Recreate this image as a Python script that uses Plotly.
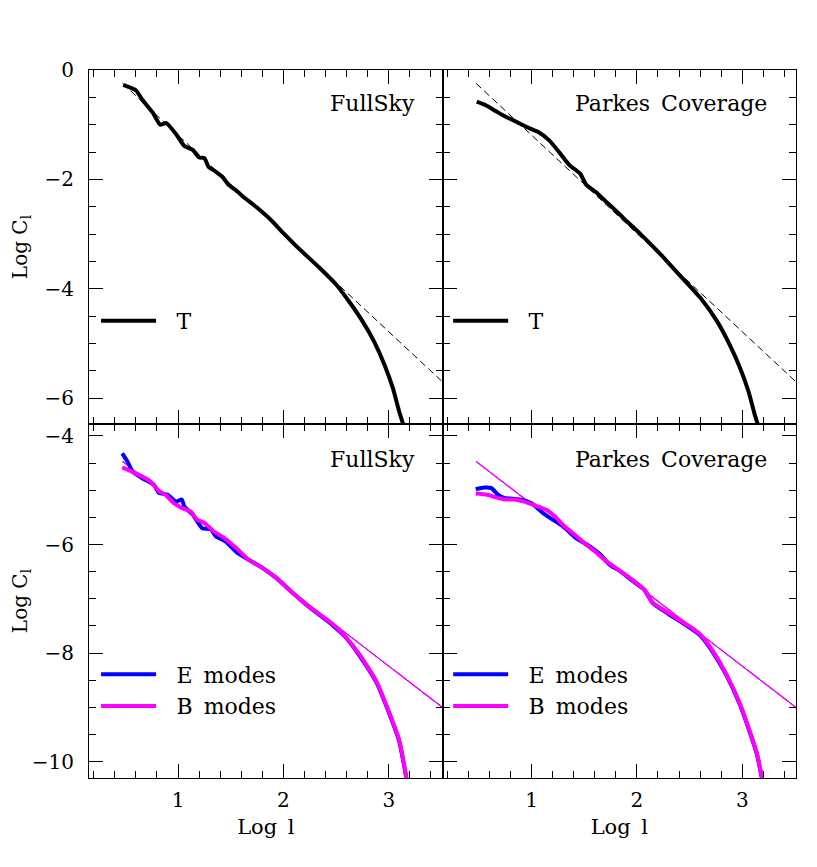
import plotly.graph_objects as go
from plotly.subplots import make_subplots

# temperature spectra (log l, log C_l)
ell_T_full = [0.48, 0.60, 0.66, 0.76, 0.83, 0.89, 0.98, 1.06, 1.14, 1.20, 1.25, 1.29, 1.36, 1.42,
              1.48, 1.55, 1.64, 1.74, 1.87, 2.00, 2.15, 2.34, 2.50, 2.63, 2.75, 2.86, 2.96, 3.04,
              3.10, 3.15]
T_full = [-0.27, -0.37, -0.54, -0.78, -1.00, -0.97, -1.17, -1.39, -1.46, -1.60, -1.61, -1.77, -1.86,
          -1.95, -2.10, -2.20, -2.35, -2.50, -2.72, -2.98, -3.27, -3.61, -3.92, -4.25, -4.59, -4.96,
          -5.39, -5.82, -6.25, -6.55]

ell_T_parkes = [0.48, 0.57, 0.66, 0.76, 0.85, 0.95, 1.06, 1.17, 1.27, 1.36, 1.46, 1.52, 1.61, 1.71,
                1.80, 1.88, 2.03, 2.22, 2.41, 2.60, 2.76, 2.88, 2.98, 3.06, 3.12, 3.16]
T_parkes = [-0.58, -0.65, -0.75, -0.86, -0.94, -1.04, -1.13, -1.29, -1.52, -1.74, -1.89, -2.10,
            -2.23, -2.41, -2.57, -2.72, -2.99, -3.36, -3.76, -4.16, -4.59, -5.02, -5.45, -5.88,
            -6.31, -6.55]

# polarisation spectra
ell_E_full = [0.47, 0.52, 0.57, 0.66, 0.77, 0.82, 0.90, 0.98, 1.035, 1.06, 1.14, 1.23, 1.31, 1.36,
              1.45, 1.56, 1.67, 1.80, 1.93, 2.06, 2.25, 2.47, 2.60, 2.72, 2.88, 3.01, 3.10, 3.15, 3.17]
E_full = [-4.32, -4.47, -4.66, -4.78, -4.90, -5.05, -5.08, -5.21, -5.17, -5.30, -5.45, -5.70, -5.72,
          -5.85, -5.94, -6.15, -6.28, -6.43, -6.61, -6.84, -7.16, -7.49, -7.73, -8.04, -8.53, -9.14,
          -9.63, -10.12, -10.34]
ell_B_full = [0.47, 0.60, 0.74, 0.82, 0.88, 0.96, 1.04, 1.12, 1.18, 1.25, 1.34, 1.44, 1.55, 1.67,
              1.80, 1.93, 2.06, 2.25, 2.47, 2.59, 2.72, 2.88, 3.01, 3.10, 3.15, 3.17]
B_full = [-4.58, -4.69, -4.84, -5.02, -5.08, -5.24, -5.33, -5.39, -5.54, -5.60, -5.76, -5.88, -6.06,
          -6.28, -6.43, -6.61, -6.84, -7.15, -7.47, -7.70, -8.02, -8.51, -9.12, -9.61, -10.10, -10.34]

ell_E_parkes = [0.47, 0.55, 0.62, 0.68, 0.74, 0.89, 1.00, 1.11, 1.20, 1.30, 1.42, 1.55, 1.65, 1.74,
                1.84, 1.96, 2.07, 2.15, 2.30, 2.47, 2.60, 2.72, 2.85, 2.98, 3.07, 3.14, 3.19]
E_parkes = [-4.98, -4.95, -4.96, -5.08, -5.14, -5.17, -5.24, -5.42, -5.54, -5.66, -5.88, -6.03, -6.18,
            -6.37, -6.49, -6.67, -6.83, -7.08, -7.28, -7.49, -7.67, -7.98, -8.41, -8.96, -9.45,
            -9.87, -10.34]
ell_B_parkes = [0.47, 0.57, 0.66, 0.74, 0.84, 0.93, 1.03, 1.14, 1.22, 1.31, 1.41, 1.50, 1.60, 1.71,
                1.80, 1.93, 2.07, 2.15, 2.30, 2.47, 2.60, 2.72, 2.85, 2.98, 3.07, 3.14, 3.19]
B_parkes = [-5.06, -5.08, -5.13, -5.17, -5.17, -5.21, -5.28, -5.36, -5.48, -5.66, -5.82, -5.97, -6.12,
            -6.31, -6.43, -6.61, -6.83, -7.07, -7.26, -7.47, -7.65, -7.96, -8.39, -8.94, -9.43,
            -9.85, -10.34]

# power-law reference lines
ell_fit = [0.474, 3.51]
T_fit = [-0.245, -5.70]
EB_fit = [-4.47, -9.00]

SERIF = "DejaVu Serif"
BLUE = "#0000ff"
MAGENTA = "#ff00ff"
SP = "\u2002"  # wide gap between words, as in the original lettering

fig = make_subplots(rows=2, cols=2, horizontal_spacing=0, vertical_spacing=0)

panels = [
    (1, 1, "legend", ell_T_full, T_full, None, None),
    (1, 2, "legend2", ell_T_parkes, T_parkes, None, None),
    (2, 1, "legend3", ell_E_full, E_full, ell_B_full, B_full),
    (2, 2, "legend4", ell_E_parkes, E_parkes, ell_B_parkes, B_parkes),
]

for row, col, leg, xa, ya, xb, yb in panels:
    if row == 1:
        fig.add_trace(go.Scatter(x=ell_fit, y=T_fit, mode="lines", showlegend=False,
                                 line=dict(color="black", width=1, dash="7px,4px")),
                      row=row, col=col)
        fig.add_trace(go.Scatter(x=xa, y=ya, mode="lines", name=SP + "\u2009T", legend=leg,
                                 line=dict(color="black", width=4, shape="spline", smoothing=0.5)),
                      row=row, col=col)
    else:
        fig.add_trace(go.Scatter(x=ell_fit, y=EB_fit, mode="lines", showlegend=False,
                                 line=dict(color=BLUE, width=1)),
                      row=row, col=col)
        fig.add_trace(go.Scatter(x=ell_fit, y=EB_fit, mode="lines", showlegend=False,
                                 line=dict(color=MAGENTA, width=1.4, dash="16px,2px")),
                      row=row, col=col)
        fig.add_trace(go.Scatter(x=xa, y=ya, mode="lines", name=SP + "\u2009E" + SP + "modes",
                                 legend=leg,
                                 line=dict(color=BLUE, width=4, shape="spline", smoothing=0.5)),
                      row=row, col=col)
        fig.add_trace(go.Scatter(x=xb, y=yb, mode="lines", name=SP + "\u2009B" + SP + "modes",
                                 legend=leg,
                                 line=dict(color=MAGENTA, width=4, shape="spline", smoothing=0.5)),
                      row=row, col=col)

axis_style = dict(showline=True, linecolor="black", linewidth=1, mirror="allticks",
                  ticks="inside", ticklen=14, tickwidth=1, tickcolor="black",
                  showgrid=False, zeroline=False, automargin=False,
                  tickfont=dict(family=SERIF, size=20, color="black"))

fig.update_xaxes(**axis_style, range=[0.155, 3.51], tick0=0, dtick=1,
                 minor=dict(ticks="inside", ticklen=7, dtick=0.2, tickcolor="black",
                            tickwidth=1, showgrid=False))
fig.update_xaxes(showticklabels=False, row=1)
fig.update_xaxes(title=dict(text="Log" + SP + "l", font=dict(family=SERIF, size=21, color="black"),
                            standoff=8),
                 ticklabelstandoff=4, row=2)

fig.update_yaxes(**axis_style, dtick=2,
                 minor=dict(ticks="inside", ticklen=7, dtick=0.5, tickcolor="black",
                            tickwidth=1, showgrid=False))
fig.update_yaxes(range=[-6.47, 0.0], tick0=0, row=1)
fig.update_yaxes(range=[-10.3, -3.78], tick0=0, row=2)
fig.update_yaxes(showticklabels=False, col=2)
fig.update_yaxes(title=dict(text="Log C<sub>l</sub>", font=dict(family=SERIF, size=20, color="black"),
                            standoff=14),
                 ticklabelstandoff=10, col=1)

labels = [("FullSky", "x domain", "y domain", 0.927, 0.906),
          ("Parkes" + SP + "Coverage", "x2 domain", "y2 domain", 0.923, 0.906),
          ("FullSky", "x3 domain", "y3 domain", 0.927, 0.899),
          ("Parkes" + SP + "Coverage", "x4 domain", "y4 domain", 0.923, 0.899)]
for text, xr, yr, xp, yp in labels:
    fig.add_annotation(text=text, xref=xr, yref=yr, x=xp, y=yp, xanchor="right", yanchor="middle",
                       showarrow=False, font=dict(family=SERIF, size=22, color="black"))

leg_style = dict(bgcolor="rgba(0,0,0,0)", borderwidth=0, yanchor="middle", xanchor="left",
                 font=dict(family=SERIF, size=22, color="black"), itemwidth=55,
                 tracegroupgap=0)
fig.update_layout(
    width=817, height=867,
    margin=dict(l=81, r=29, t=62, b=97, autoexpand=False),
    paper_bgcolor="white", plot_bgcolor="white",
    showlegend=True,
    legend=dict(**leg_style, x=0.010, y=0.6455),
    legend2=dict(**leg_style, x=0.508, y=0.6455),
    legend3=dict(**leg_style, x=0.010, y=0.1236),
    legend4=dict(**leg_style, x=0.508, y=0.1236),
)

fig.write_html("out.html")
